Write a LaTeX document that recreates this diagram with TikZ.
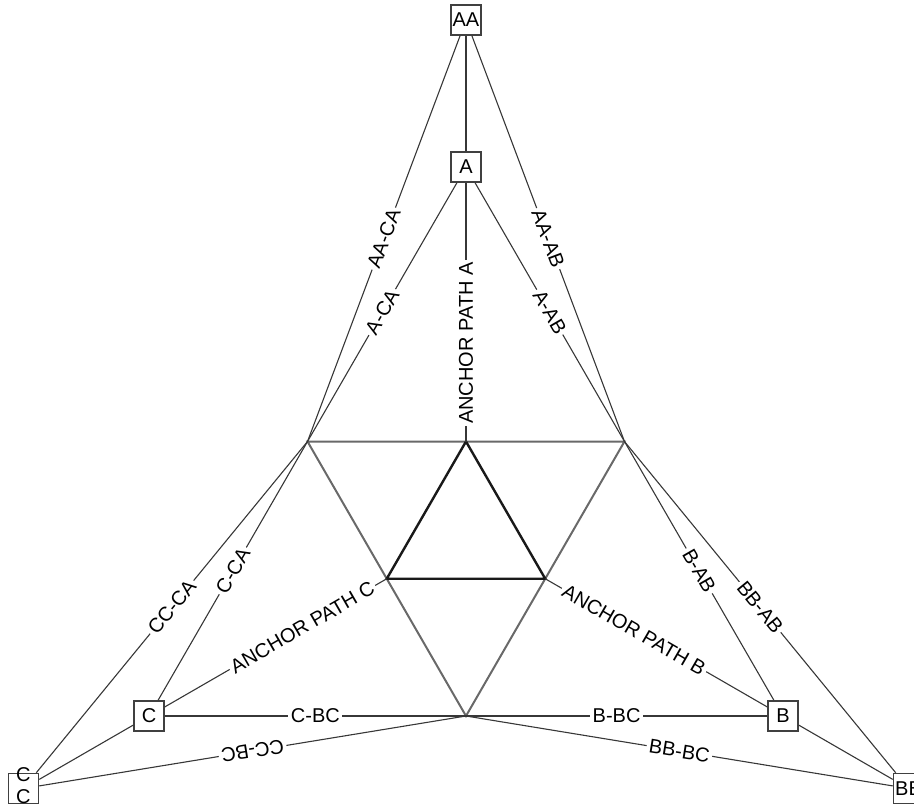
\documentclass[tikz,border=0pt]{standalone}
\usepackage{fontspec}
\setmainfont{Liberation Sans}
\definecolor{LinkGray}{RGB}{55,55,55}
\definecolor{FrameGray}{RGB}{105,105,105}

\begin{document}
\begin{tikzpicture}[x=1pt,y=1pt,font=\fontsize{20}{22}\selectfont,
  vertex/.style={draw=black!75,line width=1.5,fill=white,minimum size=30,inner sep=0},
  link/.style={draw=LinkGray,line width=1.1},
  tag/.style={fill=white,inner sep=2.5,sloped,pos=0.5}]
  \useasboundingbox (-466,-274) rectangle (448,533);

  % grey frame and inner anchor triangle
  \coordinate (ca) at (150:183);
  \coordinate (ab) at (30:183);
  \coordinate (bc) at (270:183);
  \coordinate (anchA) at (90:91.5);
  \coordinate (anchB) at (330:91.5);
  \coordinate (anchC) at (210:91.5);
  \draw[FrameGray,line width=2] (ca) -- (ab) -- (bc) -- cycle;
  \draw[black!90,line width=2.4] (anchA) -- (anchB) -- (anchC) -- cycle;

  \node[vertex] (AA) at (90:513) {AA};
  \node[vertex] (A) at (90:366) {A};
  \node[vertex] (B) at (330:366) {B};
  \node[vertex] (C) at (210:366) {C};
  \node[vertex] (BB) at (330:511) {BB};
  \node[vertex] (CC) at (210:511)
    {\smash{\raisebox{-0.25em}{\begin{tabular}{@{}c@{}}C\\C\end{tabular}}}};

  % top
  \draw[link] (AA) -- (A);
  \draw[link] (AA) -- node[tag] {AA-CA} (ca);
  \draw[link] (AA) -- node[tag] {AA-AB} (ab);
  \draw[link] (A) -- node[tag] {A-CA} (ca);
  \draw[link] (A) -- node[tag] {A-AB} (ab);
  \draw[link] (anchA) -- node[tag,pos=0.38] {ANCHOR PATH A} (A);

  % left
  \draw[link] (CC) -- (C);
  \draw[link] (CC) -- node[tag] {CC-CA} (ca);
  \draw[link] (C) -- node[tag] {C-CA} (ca);
  \draw[link] (C) -- node[tag] {C-BC} (bc);
  \draw[link] (bc) -- node[tag,allow upside down] {CC-BC} (CC);
  \draw[link] (C) -- node[tag,pos=0.62] {ANCHOR PATH C} (anchC);

  % right
  \draw[link] (BB) -- (B);
  \draw[link] (BB) -- node[tag] {BB-AB} (ab);
  \draw[link] (B) -- node[tag] {B-AB} (ab);
  \draw[link] (B) -- node[tag] {B-BC} (bc);
  \draw[link] (BB) -- node[tag] {BB-BC} (bc);
  \draw[link] (B) -- node[tag,pos=0.6] {ANCHOR PATH B} (anchB);
\end{tikzpicture}
\end{document}
